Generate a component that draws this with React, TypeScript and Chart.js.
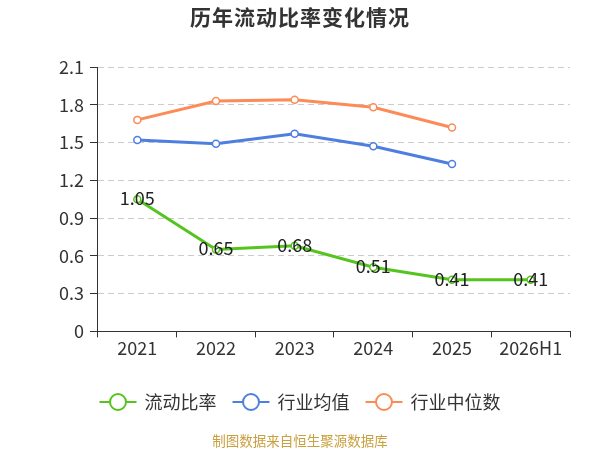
import { useEffect, useRef } from "react"
import { Chart, registerables } from "chart.js"

Chart.register(...registerables)

const years = ["2021", "2022", "2023", "2024", "2025", "2026H1"]
const currentRatio = [1.05, 0.65, 0.68, 0.51, 0.41, 0.41]
const industryAvg = [1.52, 1.49, 1.57, 1.47, 1.33, null]
const industryMedian = [1.68, 1.83, 1.84, 1.78, 1.62, null]
const seriesNames = ["流动比率", "行业均值", "行业中位数"]
const seriesColors = ["#55c41f", "#4e7fe0", "#fc8b57"]

const FONT = '"Noto Sans CJK SC", "Noto Sans", sans-serif'

// title, bottom legend, footer note and value labels on the main line
const decorations = {
  id: "decorations",
  afterDraw(chart: Chart) {
    const ctx = chart.ctx as any
    ctx.save()

    ctx.fillStyle = "#333"
    ctx.font = `bold 21px ${FONT}`
    ctx.letterSpacing = "1px"
    ctx.textAlign = "center"
    ctx.textBaseline = "middle"
    ctx.fillText("历年流动比率变化情况", 300, 17)
    ctx.letterSpacing = "0px"

    // legend
    ctx.font = `18px ${FONT}`
    const lineLen = 37
    const gap = 8
    const itemGap = 16
    const widths = seriesNames.map((n) => lineLen + gap + ctx.measureText(n).width)
    const total = widths.reduce((a, b) => a + b, 0) + itemGap * (widths.length - 1)
    let x = 300 - total / 2
    const y = 402
    seriesNames.forEach((name, i) => {
      ctx.strokeStyle = seriesColors[i]
      ctx.lineWidth = 2
      ctx.beginPath()
      ctx.moveTo(x, y)
      ctx.lineTo(x + lineLen, y)
      ctx.stroke()
      ctx.beginPath()
      ctx.arc(x + lineLen / 2, y, 8, 0, Math.PI * 2)
      ctx.fillStyle = "#fff"
      ctx.fill()
      ctx.stroke()
      ctx.fillStyle = "#333"
      ctx.textAlign = "left"
      ctx.fillText(name, x + lineLen + gap, y)
      x += widths[i] + itemGap
    })

    ctx.fillStyle = "#c9a03e"
    ctx.font = `13.5px ${FONT}`
    ctx.textAlign = "center"
    ctx.fillText("制图数据来自恒生聚源数据库", 300, 441)

    ctx.restore()
  },
  afterDatasetsDraw(chart: Chart) {
    const ctx = chart.ctx
    const meta = chart.getDatasetMeta(0)
    ctx.save()
    ctx.fillStyle = "#222"
    ctx.font = `18px ${FONT}`
    ctx.textAlign = "center"
    ctx.textBaseline = "middle"
    meta.data.forEach((pt: any, i: number) => {
      ctx.fillText(currentRatio[i].toFixed(2), pt.x, pt.y - 1)
    })
    ctx.restore()
  },
}

export default function App() {
  const chartRef = useRef<HTMLCanvasElement>(null)
  const chartInstance = useRef<Chart | null>(null)

  useEffect(() => {
    document.body.style.margin = "0"
    if (!chartRef.current) return
    if (chartInstance.current) chartInstance.current.destroy()

    const ctx = chartRef.current.getContext("2d")
    if (!ctx) return

    const data = [currentRatio, industryAvg, industryMedian]

    chartInstance.current = new Chart(ctx, {
      type: "line",
      data: {
        labels: years,
        datasets: seriesNames.map((name, i) => ({
          label: name,
          data: data[i],
          borderColor: seriesColors[i],
          backgroundColor: "#fff",
          pointBackgroundColor: "#fff",
          pointBorderColor: seriesColors[i],
          pointBorderWidth: 1.5,
          pointRadius: 3.5,
          borderWidth: 3,
          tension: 0,
          spanGaps: false,
        })),
      },
      options: {
        responsive: false,
        animation: false,
        layout: {
          padding: { top: 67, left: 53, right: 30, bottom: 91 },
        },
        plugins: {
          legend: { display: false },
          title: { display: false },
          tooltip: { enabled: false },
        },
        scales: {
          x: {
            offset: true,
            grid: {
              offset: true,
              drawOnChartArea: false,
              drawTicks: true,
              tickLength: 6,
              color: "#333",
            },
            border: { display: true, color: "#333", width: 1 },
            ticks: {
              color: "#333",
              padding: 0,
              font: { family: FONT, size: 18 },
              maxRotation: 0,
            },
          },
          y: {
            min: 0,
            max: 2.1,
            grid: {
              color: "#cccccc",
              drawTicks: true,
              tickLength: 8,
              tickColor: "#333",
            },
            border: { display: true, color: "#333", width: 1, dash: [6, 4] },
            ticks: {
              stepSize: 0.3,
              color: "#333",
              padding: 6,
              font: { family: FONT, size: 18 },
              callback: (v: any) => (v === 0 ? "0" : Number(v).toFixed(1)),
            },
          },
        },
      },
      plugins: [decorations],
    })

    return () => {
      if (chartInstance.current) {
        chartInstance.current.destroy()
        chartInstance.current = null
      }
    }
  }, [])

  return (
    <div style={{ width: 600, height: 450 }}>
      <canvas ref={chartRef} width={600} height={450}></canvas>
    </div>
  )
}
